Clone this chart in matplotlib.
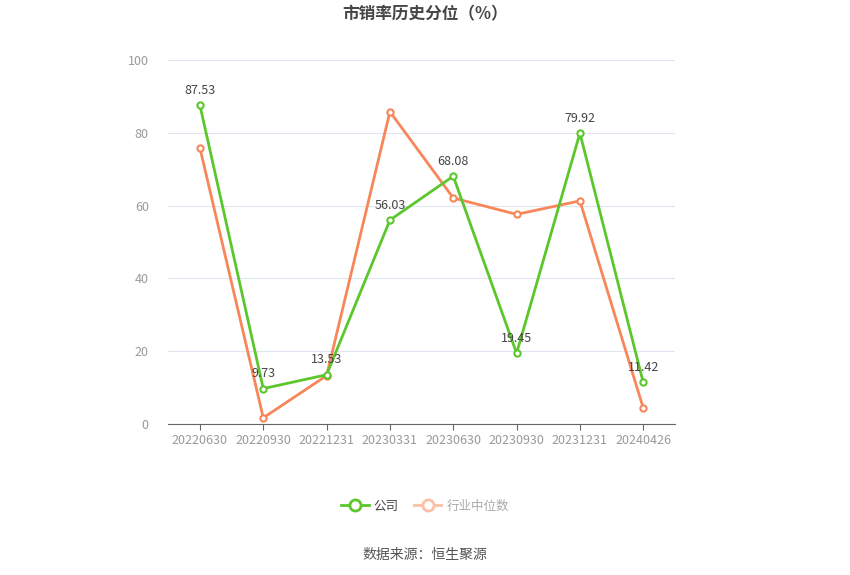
import matplotlib
matplotlib.use("Agg")
import matplotlib.pyplot as plt
from matplotlib.lines import Line2D

plt.rcParams['font.family'] = ['Noto Sans CJK SC', 'DejaVu Sans']

# Data
dates = ["20220630", "20220930", "20221231", "20230331",
         "20230630", "20230930", "20231231", "20240426"]
company = [87.53, 9.73, 13.53, 56.03, 68.08, 19.45, 79.92, 11.42]
industry = [75.8, 1.7, 13.3, 85.8, 62.1, 57.6, 61.3, 4.4]
y_ticks = [0, 20, 40, 60, 80, 100]

green = "#5cc72c"
orange = "#f7875a"

fig = plt.figure(figsize=(8.5, 5.75), dpi=100)
ax = fig.add_axes([0.198, 0.2626, 0.596, 0.633])

x = list(range(len(dates)))
ax.plot(x, industry, color=orange, lw=2, marker="o", ms=4.5,
        mfc="white", mec=orange, mew=1.5, zorder=3)
ax.plot(x, company, color=green, lw=2, marker="o", ms=4.5,
        mfc="white", mec=green, mew=1.5, zorder=4)

for xi, v in zip(x, company):
    ax.annotate(f"{v:.2f}", (xi, v), xytext=(0, 6), textcoords="offset points",
                ha="center", va="bottom", fontsize=9, color="#444444", zorder=5)

ax.set_xlim(-0.5, len(dates) - 0.5)
ax.set_ylim(0, 100)
ax.set_xticks(x)
ax.set_xticklabels(dates, fontsize=9, color="#999999")
ax.set_yticks(y_ticks)
ax.set_yticklabels([str(t) for t in y_ticks], fontsize=9, color="#999999")
ax.tick_params(axis="y", length=0, pad=14)
ax.tick_params(axis="x", length=4, color="#666666", pad=3)

ax.grid(axis="y", color="#e0e6f1", lw=0.8)
ax.set_axisbelow(True)
for s in ["top", "right", "left"]:
    ax.spines[s].set_visible(False)
ax.spines["bottom"].set_color("#666666")

fig.text(0.5, 0.975, "市销率历史分位（%）", ha="center", va="center",
         fontsize=12, fontweight="bold", color="#464646")

handles = [
    Line2D([0], [0], color=green, lw=2, marker="o", ms=8, mfc="white", mec=green, mew=2),
    Line2D([0], [0], color="#fbc0a6", lw=2, marker="o", ms=8, mfc="white", mec="#fbc0a6", mew=2),
]
leg = fig.legend(handles, ["公司", "行业中位数"], loc="center", bbox_to_anchor=(0.5, 0.12),
                 ncol=2, frameon=False, fontsize=9, handlelength=2.2,
                 columnspacing=1.2, handletextpad=0.4)
leg.get_texts()[0].set_color("#444444")
leg.get_texts()[1].set_color("#aaaaaa")

fig.text(0.5, 0.035, "数据来源：恒生聚源", ha="center", va="center",
         fontsize=10, color="#555555")

fig.savefig("out.png", dpi=100)
